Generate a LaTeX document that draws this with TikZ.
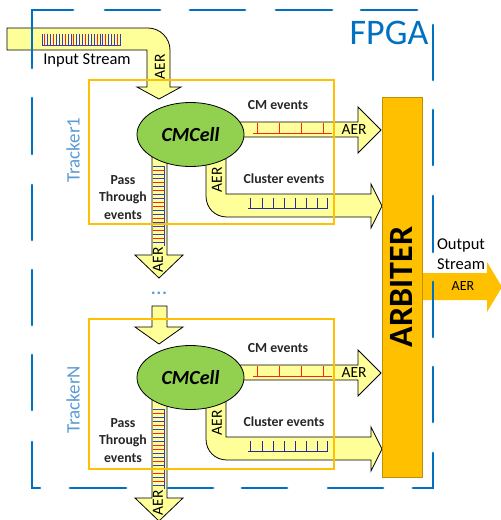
\documentclass[tikz,border=0pt]{standalone}
\usepackage{fontspec}
\setmainfont{Carlito}
\usetikzlibrary{shapes.geometric}
\definecolor{bandY}{HTML}{FFFF99}
\definecolor{cellG}{HTML}{92D050}
\definecolor{orng}{HTML}{FFC000}
\definecolor{fblue}{HTML}{0070C0}
\definecolor{tblue}{HTML}{5B9BD5}
\definecolor{bR}{HTML}{FF2020}
\definecolor{bB}{HTML}{3838C8}
\definecolor{nav}{HTML}{2A2A9A}
\tikzset{
 bandst/.style={fill=bandY,draw=black,line width=0.8pt,line join=miter},
 trk/.style={draw=orng,line width=2.6pt},
 frm/.style={draw=fblue,line width=2.8pt,line cap=round},
 ev/.style={font=\fontsize{13.8}{17.5}\selectfont\bfseries,text=black!85,inner sep=0pt},
 aer/.style={font=\fontsize{15.5}{16}\selectfont,inner sep=0pt},
 cellst/.style={ellipse,draw=black,line width=0.8pt,fill=cellG,minimum width=107pt,minimum height=64pt,inner sep=0pt,font=\fontsize{20}{22}\selectfont\bfseries\itshape},
}
\begin{document}
\begin{tikzpicture}[x=1pt,y=-1pt]
\useasboundingbox (0,0) rectangle (501,520);

% input stream band
\draw[bandst] (7,28) -- (148,28) .. controls (160,28) and (170,38) .. (170,50)
  -- (170,87) -- (181,87) -- (159,99) -- (137,87) -- (147,87) -- (147,50) -- (7,50) -- cycle;
\foreach \k [count=\c] in {bB,bR,bB,bB,bR,bB,bB,bB,bR,bB,bB,bR,bB,bB,bB,bR,bB,bB,bB,bR,bB,bB,bR,bB,bB,bB,bR,bB}
  {\draw[draw=\k,line width=0.9pt] ({42+2.9*(\c-1)},34) -- ({42+2.9*(\c-1)},45);}
\draw[bB,line width=0.9pt] (42,45) -- (121,45);
\node[font=\fontsize{16.5}{18}\selectfont,inner sep=0pt] (instream) at (87,60) {Input Stream};
\node[aer,rotate=90] (aerin) at (160,67) {AER};

% tracker N input
\draw[bandst] (152,306) -- (152,327) -- (135,327) -- (159,344) -- (183,327) -- (167,327) -- (167,306) -- cycle;
\node[font=\fontsize{22}{22}\selectfont,text=tblue,inner sep=0pt,anchor=base] (dots) at (159,294) {...};

\foreach \t/\dy in {1/0,N/243}{
\begin{scope}[shift={(0,\dy)}]
  % pass through
  \draw[bandst] (152,150) -- (152,255) -- (135,255) -- (159,278) -- (183,255) -- (167,255) -- (167,150) -- cycle;
  % CM events
  \draw[bandst] (230,122) -- (358,122) -- (358,107) -- (381,130) -- (358,153) -- (358,137) -- (230,137) -- cycle;
  % cluster events
  \draw[bandst] (206,150) -- (206,196) .. controls (206,208) and (215,217) .. (227,217)
     -- (371,217) -- (371,228) -- (382,206) -- (371,184) -- (371,194) -- (226,194) -- (226,150) -- cycle;
  % pass-through bars
  \foreach \k [count=\c] in {bB,bR,bB,bB,bR,bB,bR,bB,bB,bR,bR,bB,bB,bR,bB,bB,bR,bB,bR,bB}
    {\draw[draw=\k,line width=0.9pt] (153,{166+4*(\c-1)}) -- (164,{166+4*(\c-1)});}
  \draw[bB,line width=0.9pt] (164.5,166) -- (164.5,246);
  % CM ticks
  \draw[bR,line width=0.9pt] (253,133) -- (332,133);
  \foreach \x in {257,279,301,323}{\draw[bR,line width=0.9pt] (\x,123) -- (\x,133);}
  % cluster ticks
  \draw[nav,line width=0.9pt] (248,208) -- (328,208);
  \foreach \x in {250,262,273,284,295,306,317,327}{\draw[nav,line width=0.9pt] (\x,198) -- (\x,208);}
  % cell
  \node[cellst] (cell\t) at (190.5,134.5) {CMCell};
  % labels
  \node[ev] (cm\t) at (278,105) {CM events};
  \node[ev] (cl\t) at (284,179) {Cluster events};
  \node[ev,align=center] (pt\t) at (123,197.5) {Pass\\Through\\events};
  \node[aer] (aercm\t) at (354,130) {AER};
  \node[aer,rotate=90] (aercl\t) at (217,180) {AER};
  \node[aer,rotate=90] (aerpt\t) at (158,260) {AER};
\end{scope}
}

% tracker boxes
\draw[trk] (89,80) rectangle (334,224);
\draw[trk] (89,319) rectangle (334,469);
\node[font=\fontsize{19}{20}\selectfont,text=tblue,rotate=90,inner sep=0pt] (t1) at (73,150) {Tracker1};
\node[font=\fontsize{19}{20}\selectfont,text=tblue,rotate=90,inner sep=0pt] (tN) at (73,400) {TrackerN};

% output arrow and arbiter
\fill[orng] (422,273) -- (487,273) -- (487,262) -- (502,287) -- (487,312) -- (487,300) -- (422,300) -- cycle;
\node[draw=orng!75!black,line width=0.5pt,fill=orng,minimum width=40pt,minimum height=380pt,inner sep=0pt] (arb) at (402,287) {};
\node[font=\fontsize{34}{36}\selectfont\bfseries,rotate=90,inner sep=0pt] (arbtxt) at (401.5,287) {ARBITER};
\node[font=\fontsize{16.5}{20}\selectfont,fill=white,align=left,inner sep=1pt] (outs) at (461,254) {Output\\Stream};
\node[font=\fontsize{14}{15}\selectfont,inner sep=0pt] (aerout) at (463,286) {AER};

% FPGA frame
\draw[frm] (73,10) -- (32,10) -- (32,68);
\draw[frm] (32,98) -- (32,154);
\draw[frm] (32,185) -- (32,240);
\draw[frm] (32,270) -- (32,325);
\draw[frm] (32,355) -- (32,410);
\draw[frm] (32,442) -- (32,488) -- (40,488);
\draw[frm] (105,10) -- (160,10);
\draw[frm] (190,10) -- (245,10);
\draw[frm] (276,10) -- (332,10);
\draw[frm] (361,10) -- (417,10);
\draw[frm] (433,25) -- (433,80);
\draw[frm] (433,110) -- (433,165);
\draw[frm] (433,196) -- (433,252);
\draw[frm] (433,282) -- (433,337);
\draw[frm] (433,367) -- (433,422);
\draw[frm] (433,453) -- (433,488) -- (413,488);
\draw[frm] (383,488) -- (328,488);
\draw[frm] (287,488) -- (242,488);
\draw[frm] (213,488) -- (168,488);
\draw[frm] (126,488) -- (70,488);
\node[font=\fontsize{36}{38}\selectfont,text=fblue,inner sep=0pt] (fpga) at (389,33) {FPGA};
\end{tikzpicture}
\end{document}
